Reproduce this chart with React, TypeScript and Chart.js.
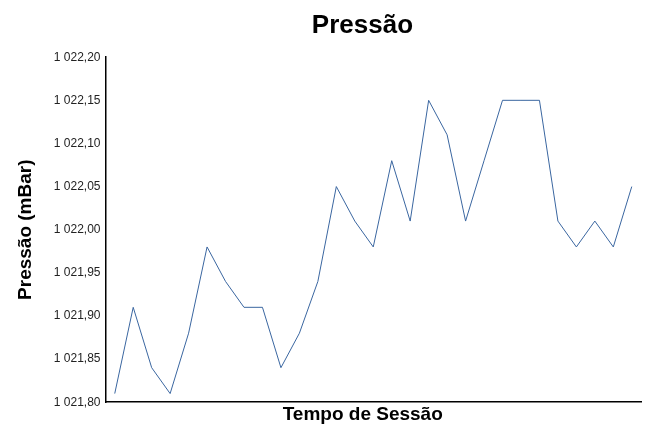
import React, { useEffect, useRef } from "react";
import { Chart, registerables } from "chart.js";

Chart.register(...registerables);

const labels: string[] = Array.from({ length: 29 }, (_, i) => String(i + 1));
const pressure: number[] = [
  1021.81, 1021.91, 1021.84, 1021.81, 1021.88, 1021.98, 1021.94, 1021.91, 1021.91, 1021.84,
  1021.88, 1021.94, 1022.05, 1022.01, 1021.98, 1022.08, 1022.01, 1022.15, 1022.11, 1022.01,
  1022.08, 1022.15, 1022.15, 1022.15, 1022.01, 1021.98, 1022.01, 1021.98, 1022.05,
];
const yMin = 1021.8;
const yMax = 1022.2;
const yStep = 0.05;
const titleText = "Pressão   ";
const yTitle = "Pressão (mBar)";
const xTitle = "Tempo de Sessão    ";

function fmt(v: number): string {
  const s = v.toFixed(2);
  const [int, dec] = s.split(".");
  const withSep = int.replace(/\B(?=(\d{3})+(?!\d))/g, " ");
  return withSep + "," + dec;
}

export default function App() {
  const ref = useRef<HTMLCanvasElement | null>(null);
  useEffect(() => {
    if (!ref.current) return;
    const font = "'Liberation Sans', Arial, sans-serif";
    const chart = new Chart(ref.current, {
      type: "line",
      data: {
        labels,
        datasets: [
          {
            data: pressure,
            borderColor: "rgb(58,102,160)",
            borderWidth: 1,
            pointRadius: 0,
            tension: 0,
            fill: false,
          },
        ],
      },
      options: {
        animation: false,
        responsive: false,
        maintainAspectRatio: false,
        layout: { padding: { left: 14, right: 7, top: 0, bottom: 0 } },
        plugins: {
          legend: { display: false },
          tooltip: { enabled: false },
          title: {
            display: true,
            fullSize: false,
            text: titleText,
            color: "#000",
            font: { family: font, size: 26, weight: "bold" },
            padding: { top: 10, bottom: 16 },
          },
        },
        scales: {
          x: {
            offset: true,
            grid: { display: false, drawTicks: false, tickLength: 0 },
            border: { display: true, color: "#000", width: 1.5 },
            ticks: { display: false, padding: 0 },
            title: {
              display: true,
              text: xTitle,
              color: "#000",
              font: { family: font, size: 19, weight: "bold" },
              padding: { top: 1, bottom: -2 },
            },
          },
          y: {
            min: yMin,
            max: yMax,
            grid: { display: false, drawTicks: false, tickLength: 0 },
            border: { display: true, color: "#000", width: 1.5 },
            ticks: {
              stepSize: yStep,
              color: "#222",
              font: { family: font, size: 12 },
              padding: 5,
              callback: (v: any) => fmt(Number(v)),
            },
            title: {
              display: true,
              text: yTitle,
              color: "#000",
              font: { family: font, size: 19, weight: "bold" },
              padding: { top: 0, bottom: 12 },
            },
          },
        },
      },
    });
    return () => chart.destroy();
  }, []);
  return (
    <div style={{ position: "fixed", left: 0, top: 0, width: 648, height: 424, background: "#fff" }}>
      <canvas ref={ref} width={648} height={424} style={{ width: 648, height: 424 }} />
    </div>
  );
}
